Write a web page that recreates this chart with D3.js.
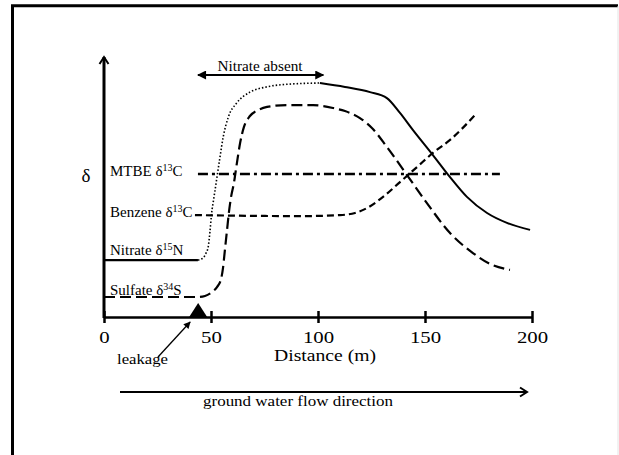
<!DOCTYPE html>
<html>
<head>
<meta charset="utf-8">
<script src="https://cdn.jsdelivr.net/npm/d3@7"></script>
<style>
  body { margin:0; background:#fff; }
  svg text { font-family:"Liberation Serif", serif; fill:#000; }
</style>
</head>
<body>
<svg id="chart" width="619" height="455" font-family="Liberation Serif"></svg>
<script>
// distance (m) vs relative delta value (arbitrary units 0-100)
const ticks = [0, 50, 100, 150, 200];

const sulfate = [
  [0,7.7],[43.9,7.7],[47.2,8.1],[50.5,9.6],[52.8,11.5],[54.7,14.6],[55.6,18.8],
  [56.5,25.8],[57.5,33.5],[58.4,40.4],[59.3,45.8],[60.7,51.5],[62.1,59.2],
  [63.6,66.9],[65.4,73.1],[68.2,77.3],[72.0,79.6],[76.2,80.8],[85.5,81.5],
  [97.7,81.5],[107.0,80.4],[112.6,79.2],[119.6,76.5],[125.2,72.7],[132.2,65.4],
  [141.6,54.6],[150.9,43.8],[161.7,32.3],[172.4,24.6],[180.4,20.4],[189.7,18.1]
];

const nitrate = [
  [0,21.9],[43.9,21.9],[46.3,22.7],[47.7,24.6],[48.7,27.0],[49.5,32.7],[50.3,40.0],
  [51.2,45.0],[52.6,52.7],[54.2,61.5],[55.7,69.2],[58.1,76.9],[62.0,82.3],
  [68.2,86.5],[76.0,88.5],[85.3,89.5],[100.9,90.0],[112.6,88.5],[124.3,86.5],
  [132.2,84.2],[138.3,78.5],[144.4,71.9],[153.7,62.3],[161.7,53.8],[169.6,46.2],
  [179.0,40.0],[188.3,36.2],[199.1,33.5]
];
// nitrate absent between these distances
const nitrateAbsent = [43.9, 100.9];

const benzene = [
  [42.5,39.2],[91.6,38.8],[110.3,39.2],[117.3,40.0],[122.9,41.9],[130.4,46.2],
  [138.3,51.9],[146.3,57.7],[153.7,63.1],[161.7,68.1],[174.3,78.5]
];

const mtbe = [[43.9,55.0],[185.0,55.0]];

const leakageAt = 44;

const svg = d3.select('#chart');

const x = d3.scaleLinear().domain([0,200]).range([104,532]);
const y = d3.scaleLinear().domain([0,100]).range([317,57]);

// frame
svg.append('path').attr('d','M12.5,460V5.8H618')
  .attr('fill','none').attr('stroke','#000').attr('stroke-width',3);
svg.append('line').attr('x1',618).attr('x2',618).attr('y1',6).attr('y2',455)
  .attr('stroke','#e4e4e4').attr('stroke-width',1);

const defs = svg.append('defs');
defs.append('marker').attr('id','chev').attr('viewBox','0 0 12 12')
  .attr('refX',10).attr('refY',6).attr('markerWidth',12).attr('markerHeight',12)
  .attr('markerUnits','userSpaceOnUse').attr('orient','auto')
  .append('path').attr('d','M3,1.5L10,6L3,10.5').attr('fill','none')
  .attr('stroke','#000').attr('stroke-width',2);
defs.append('marker').attr('id','tri').attr('viewBox','0 0 10 10')
  .attr('refX',9).attr('refY',5).attr('markerWidth',10).attr('markerHeight',9)
  .attr('markerUnits','userSpaceOnUse').attr('orient','auto-start-reverse')
  .append('path').attr('d','M0,0L10,5L0,10Z').attr('fill','#000');
defs.append('marker').attr('id','small').attr('viewBox','0 0 10 10')
  .attr('refX',9).attr('refY',5).attr('markerWidth',8).attr('markerHeight',7)
  .attr('markerUnits','userSpaceOnUse').attr('orient','auto')
  .append('path').attr('d','M0,0L10,5L0,10Z').attr('fill','#000');

// x axis
const xAxis = svg.append('g').attr('transform',`translate(0,${y(0)})`)
  .call(d3.axisBottom(x).tickValues(ticks).tickSizeOuter(0).tickSizeInner(6));
xAxis.select('.domain').attr('stroke','#000').attr('stroke-width',2.5);
xAxis.selectAll('.tick line').attr('y1',-6).attr('y2',6).attr('stroke','#000').attr('stroke-width',2.5);
xAxis.selectAll('.tick text').attr('y',26).attr('dy',0)
  .attr('font-size',16).attr('font-family','Liberation Serif')
  .attr('transform','scale(1.3,1)');

// y axis
svg.append('line').attr('x1',x(0)).attr('x2',x(0)).attr('y1',y(0)+1).attr('y2',y(100))
  .attr('stroke','#000').attr('stroke-width',3).attr('marker-end','url(#chev)');

const line = d3.line().x(d => x(d[0])).y(d => y(d[1])).curve(d3.curveMonotoneX);

function draw(data, w, dash) {
  svg.append('path').datum(data).attr('d',line)
    .attr('fill','none').attr('stroke','#000').attr('stroke-width',w)
    .attr('stroke-dasharray',dash);
}

draw(mtbe, 2.5, '10,4,3,4');
draw(benzene, 2.2, '7,4');
draw(sulfate, 2.2, '11,5');
draw(nitrate.filter(d => d[0] <= nitrateAbsent[0]), 2.2, null);
draw(nitrate.filter(d => d[0] >= nitrateAbsent[0] && d[0] <= nitrateAbsent[1]), 1.6, '1.5,2');
draw(nitrate.filter(d => d[0] >= nitrateAbsent[1]), 2, null);

// labels
function label(ty, name, sup, el) {
  const t = svg.append('text').attr('x',110).attr('y',ty).attr('font-size',15);
  t.append('tspan').text(name + ' δ');
  t.append('tspan').attr('dy',-5).attr('font-size',10).text(sup);
  t.append('tspan').attr('dy',5).text(el);
}
label(y(mtbe[0][1]) + 2, 'MTBE', '13', 'C');
label(y(benzene[0][1]) + 2, 'Benzene', '13', 'C');
label(y(nitrate[0][1]) - 5, 'Nitrate', '15', 'N');
label(y(sulfate[0][1]) - 2, 'Sulfate', '34', 'S');

svg.append('text').attr('x',86).attr('y',182).attr('text-anchor','middle')
  .attr('font-size',19).text('δ');

function fitText(cx, ty, size, len, str) {
  svg.append('text').attr('x',cx).attr('y',ty).attr('text-anchor','middle')
    .attr('font-size',size).attr('textLength',len).attr('lengthAdjust','spacingAndGlyphs')
    .text(str);
}

// nitrate absent arrow
const ay = 75;
svg.append('line').attr('x1',x(nitrateAbsent[0])).attr('x2',x(102.5)).attr('y1',ay).attr('y2',ay)
  .attr('stroke','#000').attr('stroke-width',1.8)
  .attr('marker-start','url(#tri)').attr('marker-end','url(#tri)');
fitText(260, 71, 15, 85, 'Nitrate absent');

// leakage
const lx = x(leakageAt);
svg.append('path').attr('d',`M${lx-9},${y(0)}L${lx},${y(0)-14}L${lx+9},${y(0)}Z`).attr('fill','#000');
svg.append('line').attr('x1',158).attr('y1',357).attr('x2',lx-8).attr('y2',y(0)+5)
  .attr('stroke','#000').attr('stroke-width',1.3).attr('marker-end','url(#small)');
fitText(142.5, 364, 15, 51, 'leakage');

fitText(325, 361, 16, 102, 'Distance (m)');

// ground water flow direction
svg.append('line').attr('x1',120).attr('x2',527).attr('y1',392).attr('y2',392)
  .attr('stroke','#000').attr('stroke-width',2).attr('marker-end','url(#chev)');
fitText(298, 406, 15, 190, 'ground water flow direction');
</script>
</body>
</html>
